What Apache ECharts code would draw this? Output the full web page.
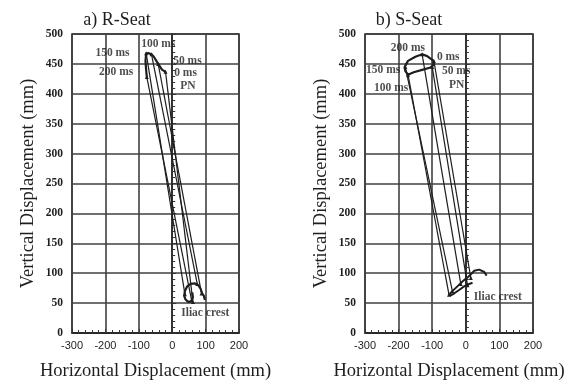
<!DOCTYPE html>
<html><head><meta charset="utf-8">
<script src="https://cdn.jsdelivr.net/npm/echarts@6/dist/echarts.min.js"></script>
<style>html,body{margin:0;padding:0;background:#fff}#c{width:583px;height:386px}</style>
</head><body><div id="c"></div>
<script>
// ---- Data (mm) ----
const xTicks = [-300, -200, -100, 0, 100, 200];
const yTicks = [0, 50, 100, 150, 200, 250, 300, 350, 400, 450, 500];
const times = ['0 ms', '50 ms', '100 ms', '150 ms', '200 ms'];

// R-Seat: PN and iliac crest positions at each time
const rPNx = [-20, -42, -62, -78, -76];
const rPNy = [437, 450, 466, 468, 428];
const rICx = [62, 88, 75, 38, 58];
const rICy = [52, 66, 82, 65, 55];
// R-Seat trajectories
const rPNPathX = [-20, -30, -42, -55, -62, -72, -78, -80, -78, -76];
const rPNPathY = [437, 440, 450, 462, 466, 468, 467, 455, 440, 428];
const rICPathX = [98, 95, 90, 85, 78, 68, 55, 45, 38, 36, 40, 48, 58, 62, 60];
const rICPathY = [55, 62, 66, 74, 80, 83, 82, 78, 70, 62, 56, 52, 53, 60, 68];

// S-Seat: PN and iliac crest positions at each time
const sPNx = [-95, -100, -172, -180, -130];
const sPNy = [455, 445, 432, 445, 466];
const sICx = [15, 5, -50, -40, -15];
const sICy = [92, 80, 64, 70, 82];
// S-Seat trajectories
const sPNPathX = [-95, -97, -105, -130, -155, -172, -180, -182, -172, -150, -130, -115, -103, -95];
const sPNPathY = [455, 448, 444, 440, 436, 432, 438, 445, 455, 462, 466, 463, 458, 455];
const sICPathX = [-50, -40, -25, -10, 5, 15, 25, 40, 55, 62];
const sICPathY = [64, 70, 78, 86, 93, 98, 104, 106, 102, 96];
const sICPath2X = [-48, -35, -20, -5, 10, 20];
const sICPath2Y = [62, 66, 72, 78, 82, 84];

// Annotations [text, x, y]
const rLabels = [['100 ms', -93, 483], ['150 ms', -230, 468], ['50 ms', 3, 455], ['200 ms', -219, 436], ['0 ms', 6, 435], ['PN', 24, 413], ['Iliac crest', 27, 33]];
const sLabels = [['200 ms', -223, 477], ['0 ms', -86, 462], ['150 ms', -297, 440], ['50 ms', -71, 438], ['100 ms', -273, 410], ['PN', -50, 415], ['Iliac crest', 24, 60]];

// ---- Chart ----
const serif = 'Liberation Serif';
const ink = '#1e1e1e';
function zip(a, b) { return a.map((v, i) => [v, b[i]]); }

function xAxis(idx) {
  return {
    type: 'value', gridIndex: idx, min: xTicks[0], max: xTicks[xTicks.length - 1], interval: 100,
    axisLine: { show: true, lineStyle: { color: '#222', width: 1.5 } },
    axisTick: { show: true, inside: true, length: 4, lineStyle: { color: '#333' } },
    minorTick: { show: true, splitNumber: 5, length: 3, lineStyle: { color: '#333' } },
    splitLine: { show: true, lineStyle: { color: '#404040', width: 1.6 } },
    axisLabel: { fontFamily: 'Liberation Sans', fontSize: 11, color: ink, margin: 7,
      formatter: v => (v < 0 ? '-' + Math.abs(v) : String(v)) },
    name: 'Horizontal Displacement (mm)', nameLocation: 'middle', nameGap: 29,
    nameTextStyle: { fontFamily: serif, fontSize: 18.5, color: ink }
  };
}
function yAxis(idx) {
  return {
    type: 'value', gridIndex: idx, min: 0, max: 500, interval: 50,
    axisLine: { show: true, lineStyle: { color: '#222', width: 1.5 } },
    axisTick: { show: true, inside: true, length: 4, lineStyle: { color: '#333' } },
    minorTick: { show: true, splitNumber: 5, length: 3, lineStyle: { color: '#333' } },
    splitLine: { show: true, lineStyle: { color: '#404040', width: 1.6 } },
    axisLabel: { fontFamily: serif, fontSize: 11.5, fontWeight: 'bold', color: ink, margin: 9 },
    name: 'Vertical Displacement (mm)', nameLocation: 'middle', nameGap: 34,
    nameTextStyle: { fontFamily: serif, fontSize: 18.5, color: ink }
  };
}

function lineSeries(idx, data, width, symbol) {
  return {
    type: 'line', xAxisIndex: idx, yAxisIndex: idx, data: data, smooth: false,
    symbol: symbol || 'none', symbolSize: 4, showSymbol: !!symbol,
    itemStyle: { color: ink }, lineStyle: { color: ink, width: width }, silent: true, z: 5
  };
}
function labelSeries(idx, labels) {
  return {
    type: 'scatter', xAxisIndex: idx, yAxisIndex: idx, symbolSize: 0, silent: true, z: 6,
    data: labels.map(l => ({ value: [l[1], l[2]], name: l[0] })),
    label: { show: true, position: 'right', distance: 0, formatter: p => p.name,
      fontFamily: serif, fontSize: 11.5, fontWeight: 'bold', color: ink }
  };
}

const series = [];
// R-Seat
times.forEach((t, i) => series.push(lineSeries(0, [[rPNx[i], rPNy[i]], [rICx[i], rICy[i]]], 1.2)));
series.push(lineSeries(0, zip(rPNPathX, rPNPathY), 2.2));
series.push(lineSeries(0, zip(rICPathX, rICPathY), 2.2));
series.push(lineSeries(0, zip(rPNx, rPNy), 0, 'triangle'));
series.push(lineSeries(0, zip(rICx, rICy), 0, 'triangle'));
series.push(labelSeries(0, rLabels));
// S-Seat
times.forEach((t, i) => series.push(lineSeries(1, [[sPNx[i], sPNy[i]], [sICx[i], sICy[i]]], 1.2)));
series.push(lineSeries(1, zip(sPNPathX, sPNPathY), 2.2));
series.push(lineSeries(1, zip(sICPathX, sICPathY), 2));
series.push(lineSeries(1, zip(sICPath2X, sICPath2Y), 2));
series.push(lineSeries(1, zip(sPNx, sPNy), 0, 'triangle'));
series.push(lineSeries(1, zip(sICx, sICy), 0, 'triangle'));
series.push(labelSeries(1, sLabels));

const chart = echarts.init(document.getElementById('c'), null, { renderer: 'canvas' });
chart.setOption({
  backgroundColor: '#fff',
  animation: false,
  title: [
    { text: 'a) R-Seat', left: 112, top: 6, textAlign: 'center',
      textStyle: { fontFamily: serif, fontSize: 18, fontWeight: 'normal', color: ink } },
    { text: 'b) S-Seat', left: 404, top: 6, textAlign: 'center',
      textStyle: { fontFamily: serif, fontSize: 18, fontWeight: 'normal', color: ink } }
  ],
  grid: [
    { left: 72, top: 34, width: 167, height: 299, show: true, borderColor: '#222', borderWidth: 1.5, backgroundColor: 'transparent' },
    { left: 365, top: 34, width: 168, height: 299, show: true, borderColor: '#222', borderWidth: 1.5, backgroundColor: 'transparent' }
  ],
  xAxis: [xAxis(0), xAxis(1)],
  yAxis: [yAxis(0), yAxis(1)],
  series: series
});
</script></body></html>
